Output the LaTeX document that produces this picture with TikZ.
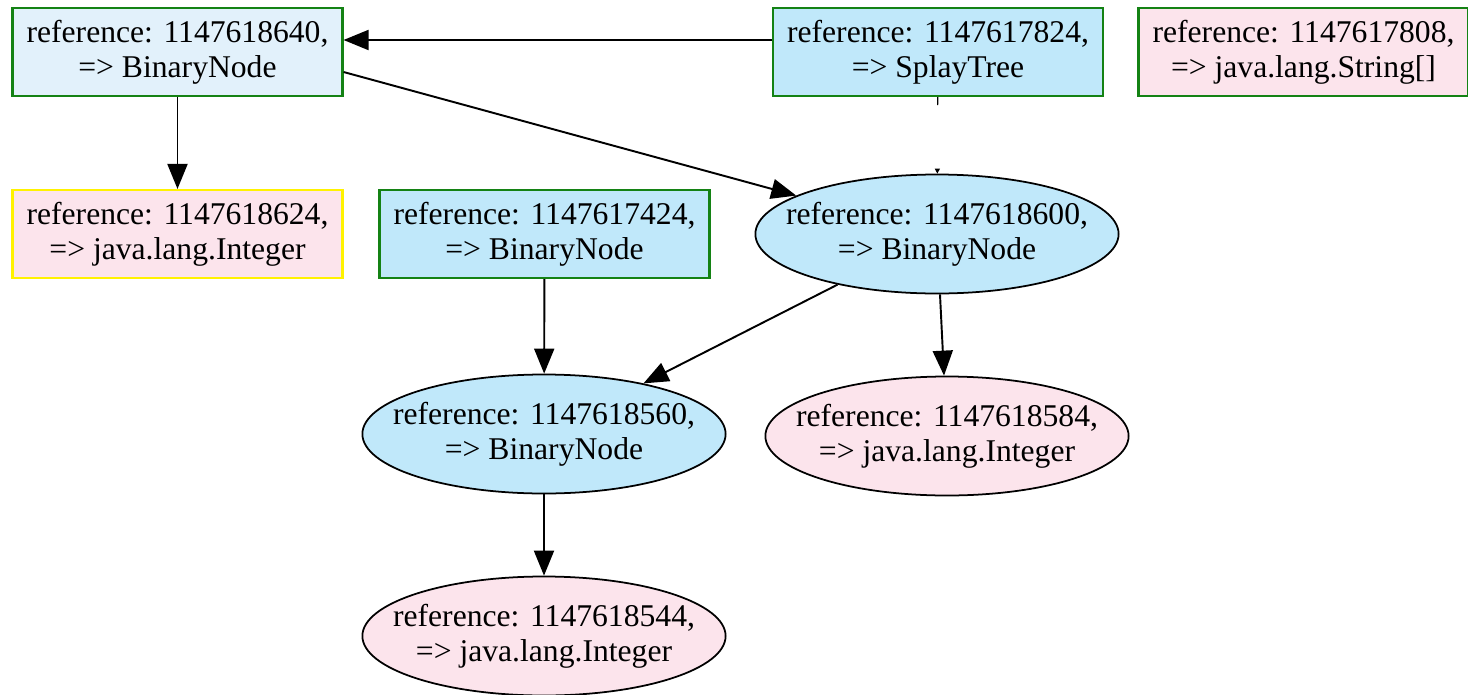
\documentclass[tikz,border=0pt]{standalone}
\usepackage{fontspec}
\setmainfont{Liberation Serif}
\usetikzlibrary{shapes.geometric,arrows.meta}

\definecolor{objblue}{RGB}{192,232,250}
\definecolor{rootblue}{RGB}{226,241,251}
\definecolor{valpink}{RGB}{252,228,236}
\definecolor{refgreen}{RGB}{20,130,20}

\begin{document}
\begin{tikzpicture}[x=0.2mm,y=-0.2mm,
    font=\fontsize{18}{20}\selectfont,
    refbox/.style={draw=refgreen, line width=1.2pt, rectangle, align=center,
        minimum width=6.6cm, minimum height=1.76cm, inner sep=0pt},
    refoval/.style={draw=black, line width=1pt, ellipse, align=center,
        minimum width=7.22cm, minimum height=2.38cm, inner xsep=-4.5mm, inner ysep=0pt},
    link/.style={line width=1.1pt, -{Triangle[length=5mm,width=4mm]}}]
    \useasboundingbox (0,0) rectangle (1468,695);

    % Top row
    \node[refbox, fill=rootblue] (n640) at (177.5,52) {reference: 1147618640,\\=> BinaryNode};
    \node[refbox, fill=objblue] (n824) at (938,52) {reference: 1147617824,\\=> SplayTree};
    \node[refbox, fill=valpink] (n808) at (1303.5,52) {reference: 1147617808,\\=> java.lang.String[]};

    % Second row
    \node[refbox, draw=yellow, fill=valpink] (n624) at (177.5,234) {reference: 1147618624,\\=> java.lang.Integer};
    \node[refbox, fill=objblue] (n424) at (544.5,234) {reference: 1147617424,\\=> BinaryNode};
    \node[refoval, fill=objblue] (e600) at (937,234) {reference: 1147618600,\\=> BinaryNode};

    % Lower nodes
    \node[refoval, fill=objblue] (e560) at (544,434) {reference: 1147618560,\\=> BinaryNode};
    \node[refoval, fill=valpink] (e584) at (947,436) {reference: 1147618584,\\=> java.lang.Integer};
    \node[refoval, fill=valpink] (e544) at (544,636) {reference: 1147618544,\\=> java.lang.Integer};

    % Connections
    \draw[link] ([yshift=2.4mm]n824.west) -- ([yshift=2.4mm]n640.east);
    \draw[link] ([yshift=-4mm]n640.east) -- (e600);
    \draw[link] (n640) -- (n624);
    \draw[line width=0.6pt, dash pattern=on 1.6mm off 20cm,
        -{Triangle[length=1mm,width=1mm]}] (n824) -- (e600);
    \draw[link] (n424) -- (e560);
    \draw[link] (e600) -- (e560);
    \draw[link] (e600) -- (e584);
    \draw[link] (e560) -- (e544);

\end{tikzpicture}
\end{document}
